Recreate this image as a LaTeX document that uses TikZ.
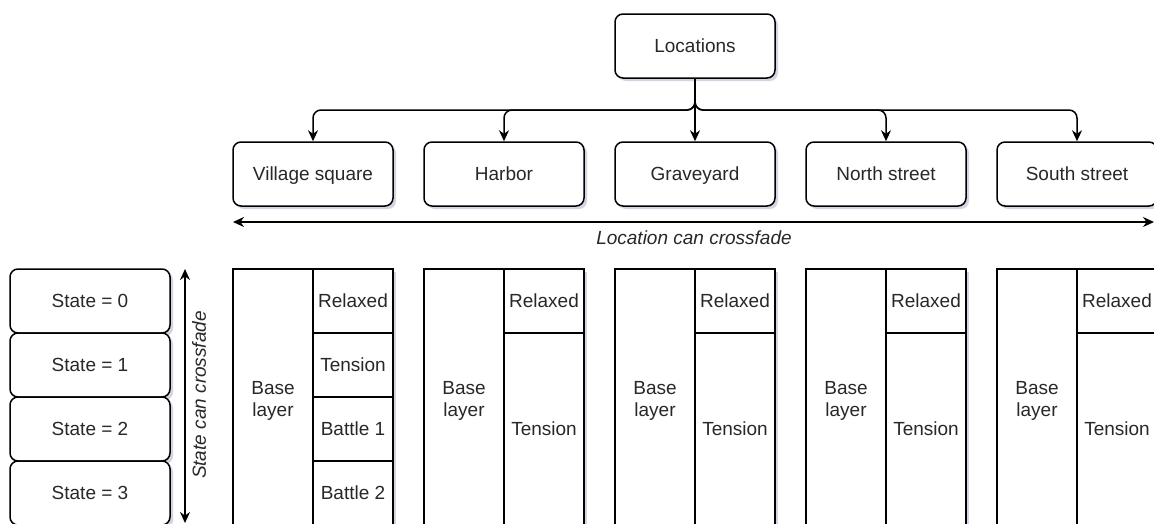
\documentclass[tikz,border=0pt]{standalone}
\usepackage{fontspec}
\setmainfont{Liberation Sans}
\usetikzlibrary{arrows.meta,shadows}
\definecolor{txt}{RGB}{40,40,40}
\definecolor{shd}{RGB}{170,170,200}
\tikzset{
  basestyle/.style={draw=black, line width=1.5pt, text=txt, font=\fontsize{19}{22}\selectfont, inner sep=0pt, align=center, fill=white},
  oneline/.style={text height=13.6pt, text depth=-2pt},
  shadowed/.style={drop shadow={shadow xshift=3pt, shadow yshift=-3pt, fill=shd, opacity=0.5}},
  rbox/.style={basestyle, oneline, shadowed, rounded corners=8pt, minimum width=160pt, minimum height=64pt},
  outerbox/.style={basestyle, shadowed, minimum width=160pt, minimum height=264pt},
  cellbox/.style={basestyle, oneline},
  basecell/.style={basestyle, minimum width=80pt, minimum height=264pt},
  conn/.style={draw=black, line width=1.5pt, -{Stealth[length=11pt,width=10pt]}, rounded corners=8pt},
  dconn/.style={draw=black, line width=1.5pt, {Stealth[length=11pt,width=10pt]}-{Stealth[length=11pt,width=10pt]}},
  lbl/.style={text=txt, font=\fontsize{19}{22}\selectfont\itshape, inner sep=0pt}
}
\begin{document}
\begin{tikzpicture}[x=1pt,y=-1pt]
\useasboundingbox (0,0) rectangle (1154,523);
\clip (0,0) rectangle (1154,523);
\fill[white] (0,0) rectangle (1154,523);

% top level
\node[rbox] (loc) at (695,46) {Locations};
\node[rbox] (vs) at (313,174) {Village square};
\node[rbox] (hb) at (504,174) {Harbor};
\node[rbox] (gy) at (695,174) {Graveyard};
\node[rbox] (ns) at (886,174) {North street};
\node[rbox] (ss) at (1077,174) {South street};

\coordinate (bus) at (695,110);
\draw[conn] (loc.south) -- (bus) -| (vs.north);
\draw[conn] (loc.south) -- (bus) -| (hb.north);
\draw[conn] (loc.south) -- (gy.north);
\draw[conn] (loc.south) -- (bus) -| (ns.north);
\draw[conn] (loc.south) -- (bus) -| (ss.north);

% location crossfade
\coordinate (hl) at (233,222);
\coordinate (hr) at (1154,222);
\draw[dconn] (hl) -- (hr);
\node[lbl] (hlabel) at (694,238) {Location can crossfade};

% states
\node[rbox] (s0) at (90,301) {State = 0};
\node[rbox] (s1) at (90,365) {State = 1};
\node[rbox] (s2) at (90,429) {State = 2};
\node[rbox] (s3) at (90,493) {State = 3};

\coordinate (vt) at (185,269);
\coordinate (vb) at (185,523);
\draw[dconn] (vt) -- (vb);
\node[lbl, rotate=90] (vlabel) at (199,395) {State can crossfade};

% table 1
\node[outerbox] (t1) at (313,401) {};
\node[basecell] (b1) at (273,401) {Base\\layer};
\node[cellbox, minimum width=80pt, minimum height=64pt] (r1a) at (353,301) {Relaxed};
\node[cellbox, minimum width=80pt, minimum height=64pt] (r1b) at (353,365) {Tension};
\node[cellbox, minimum width=80pt, minimum height=64pt] (r1c) at (353,429) {Battle 1};
\node[cellbox, minimum width=80pt, minimum height=64pt] (r1d) at (353,493) {Battle 2};

% tables 2-5
\foreach \c/\n in {504/2,695/3,886/4,1077/5}{
  \node[outerbox] (t\n) at (\c,401) {};
  \node[basecell] (b\n) at (\c-40,401) {Base\\layer};
  \node[cellbox, minimum width=80pt, minimum height=64pt] (r\n a) at (\c+40,301) {Relaxed};
  \node[cellbox, minimum width=80pt, minimum height=192pt] (r\n b) at (\c+40,429) {Tension};
}
\end{tikzpicture}
\end{document}
